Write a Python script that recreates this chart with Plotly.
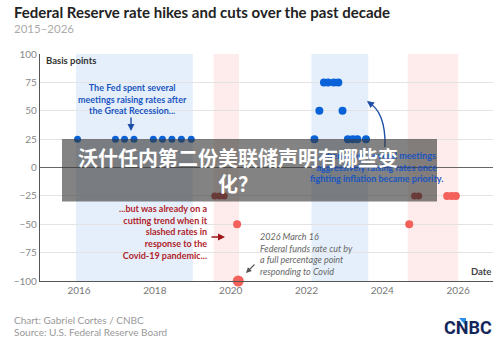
import plotly.graph_objects as go

# ---- data ----
hike_dates_1 = [2015.96, 2016.96, 2017.2, 2017.45, 2017.96, 2018.2, 2018.45, 2018.7, 2018.96]
hike_vals_1 = [25, 25, 25, 25, 25, 25, 25, 25, 25]

hike_dates_2 = [2022.21, 2022.34, 2022.46, 2022.57, 2022.72, 2022.84, 2022.95, 2023.09, 2023.22, 2023.34, 2023.57]
hike_vals_2 = [25, 50, 75, 75, 75, 75, 50, 25, 25, 25, 25]

cut_dark_dates = [2019.58, 2019.71, 2019.83, 2024.85, 2024.96]
cut_dark_vals = [-25, -25, -25, -25, -25]

cut_light_dates = [2020.17, 2024.71, 2025.71, 2025.83, 2025.94]
cut_light_vals = [-50, -50, -25, -25, -25]

covid_date = [2020.2]
covid_val = [-100]

hike_periods = [(2015.92, 2019.0), (2022.13, 2023.63)]
cut_periods = [(2019.55, 2020.22), (2024.67, 2026.0)]

y_ticks = [-100, -75, -50, -25, 0, 25, 50, 75, 100]
x_ticks = [2016, 2018, 2020, 2022, 2024, 2026]

BLUE = "#0a62d8"
DARK_RED = "#b8423d"
LIGHT_RED = "#f4605a"
FONT = "Lato"

W, H = 500, 342
L, R, T, B = 40, 493, 54, 281


def px(x):
    return (x - L) / (R - L)


def py(y):
    return (B - y) / (B - T)


fig = go.Figure()

fig.add_trace(go.Scatter(x=hike_dates_1, y=hike_vals_1, mode="markers",
                         marker=dict(color=BLUE, size=7, line=dict(width=0))))
fig.add_trace(go.Scatter(x=hike_dates_2, y=hike_vals_2, mode="markers",
                         marker=dict(color=BLUE, size=8, line=dict(width=0))))
fig.add_trace(go.Scatter(x=cut_dark_dates, y=cut_dark_vals, mode="markers",
                         marker=dict(color=DARK_RED, size=7, line=dict(width=0))))
fig.add_trace(go.Scatter(x=cut_light_dates, y=cut_light_vals, mode="markers",
                         marker=dict(color=LIGHT_RED, size=8, line=dict(width=0))))
fig.add_trace(go.Scatter(x=covid_date, y=covid_val, mode="markers", cliponaxis=False,
                         marker=dict(color=LIGHT_RED, size=11, line=dict(width=0))))

shapes = []
for a, b in hike_periods:
    shapes.append(dict(type="rect", xref="x", yref="paper", x0=a, x1=b, y0=0, y1=1,
                       fillcolor="#e5effb", line=dict(width=0), layer="below"))
for a, b in cut_periods:
    shapes.append(dict(type="rect", xref="x", yref="paper", x0=a, x1=b, y0=0, y1=1,
                       fillcolor="#fdeceb", line=dict(width=0), layer="below"))

# curved arrow
shapes.append(dict(type="path", xref="paper", yref="paper",
                   path=f"M {px(385)},{py(147)} Q {px(386)},{py(112)} {px(368)},{py(102)}",
                   line=dict(color="#1d4fa8", width=1.4)))

# banner
shapes.append(dict(type="rect", xref="paper", yref="paper", x0=px(62), x1=px(437),
                   y0=py(201.5), y1=py(139), fillcolor="rgba(55,55,55,0.62)",
                   line=dict(width=0), layer="above"))

# CNBC accent
shapes.append(dict(type="path", xref="paper", yref="paper",
                   path=f"M {px(459)},{py(318)} L {px(466)},{py(318)} L {px(466)},{py(326)} Z",
                   fillcolor="#2e8fe8", line=dict(width=0), layer="above"))

ann = []


def text(x, y, s, size, color, xanchor="left", bold=False, italic=False, align="left", family=FONT):
    ann.append(dict(x=px(x), y=py(y), xref="paper", yref="paper", text=s, showarrow=False,
                    xanchor=xanchor, yanchor="middle", align=align,
                    font=dict(size=size, color=color, family=family,
                              weight="bold" if bold else "normal",
                              style="italic" if italic else "normal")))


text(12, 12, "Federal Reserve rate hikes and cuts over the past decade", 15, "#222", bold=True)
text(12, 28, "2015–2026", 11.5, "#aaaaaa")
text(44, 60, "Basis points", 9.5, "#333", bold=True)
text(493, 271, "Date", 9.5, "#444", xanchor="right", bold=True)
text(12, 320, "Chart: Gabriel Cortes / CNBC", 10, "#999")
text(12, 332, "Source: U.S. Federal Reserve Board", 10, "#999")
text(132, 98.5, "The Fed spent several<br>meetings raising rates after<br>the Great Recession...",
     9, "#1a55c0", xanchor="center", align="center", bold=True)
text(376, 166.5, "...then spent several meetings<br>aggressively raising rates once<br>fighting inflation became priority.",
     9, "#1a55c0", xanchor="center", align="center", bold=True)
text(210, 231.5, "...but was already on a<br>cutting trend when it<br>slashed rates in<br>response to the<br>Covid-19 pandemic...",
     9, "#b0242a", xanchor="right", align="right", bold=True)
text(258, 253.5, "2026 March 16<br>Federal funds rate cut by<br>a full percentage point<br>responding to Covid",
     9, "#666", italic=True)
text(468, 327, "CNBC", 18, "#14275a", xanchor="center", bold=True, family="Roboto")
text(238, 170, "沃什任内第二份美联储声明有哪些变<br>化？", 20, "white", xanchor="center",
     align="center", bold=True, family="Noto Sans CJK SC")


# arrows (end point in px, start point in px)
def arrow(x1, y1, x0, y0, color, head=2, width=1.4):
    ann.append(dict(x=px(x1), y=py(y1), xref="paper", yref="paper",
                    ax=x0 - x1, ay=y0 - y1, axref="pixel", ayref="pixel",
                    text="", showarrow=True, arrowhead=head, arrowsize=1,
                    arrowwidth=width, arrowcolor=color))


arrow(131, 131, 131, 116, "#1d4fa8")
arrow(367, 101, 371, 104, "#1d4fa8")
arrow(225, 237, 210, 237, "#a0141a")
arrow(246, 273, 256, 263, "#555", width=1.1)

fig.update_layout(
    width=W, height=H,
    margin=dict(l=L, r=W - R, t=T, b=H - B),
    paper_bgcolor="white", plot_bgcolor="white",
    showlegend=False,
    shapes=shapes, annotations=ann,
    font=dict(family=FONT),
    xaxis=dict(range=[2014.97, 2026.92], tickvals=x_ticks, ticktext=[str(v) for v in x_ticks],
               showgrid=False, zeroline=False, showline=True, linecolor="#555", linewidth=1.2,
               tickfont=dict(size=10, color="#777"), ticks=""),
    yaxis=dict(range=[-100, 100], tickvals=y_ticks,
               ticktext=[str(v).replace("-", "−") for v in y_ticks],
               showgrid=True, gridcolor="#e3e3e3", gridwidth=1,
               zeroline=True, zerolinecolor="#666", zerolinewidth=1.2,
               showline=True, linecolor="#555", linewidth=1.2,
               tickfont=dict(size=10, color="#888"), ticks=""),
)

fig.write_html("out.html")
